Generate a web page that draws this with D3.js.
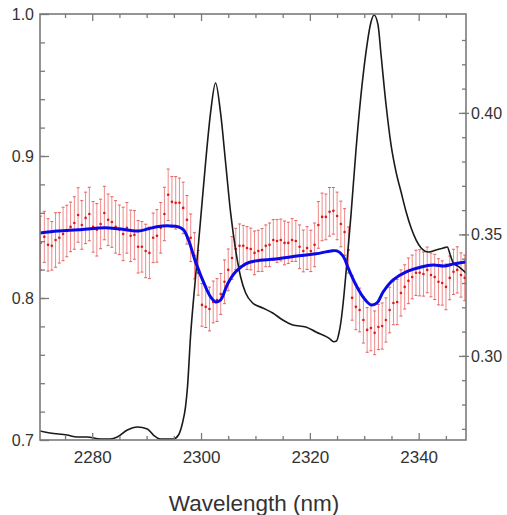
<!DOCTYPE html>
<html lang="en">

<head>
    <meta charset="UTF-8">
    <title>Spectrum</title>
    <script src="https://d3js.org/d3.v7.min.js"></script>
    <style>
        body {
            margin: 0;
            background: #fff;
        }

        text {
            font-family: "Liberation Sans", Arial, sans-serif;
            fill: #333;
        }
    </style>
</head>

<body>

    <svg id="chart"></svg>

    <script>
        // black trace (left axis)
        const blackWl = [2270.4, 2272.26, 2275.39, 2277.24, 2279.08, 2281.47, 2283.32, 2284.61, 2286.45, 2288.29,
            2290.14, 2291.24, 2292.53, 2294.93, 2295.85, 2296.59, 2297.14, 2297.51, 2298.06, 2298.99,
            2299.91, 2300.83, 2301.75, 2302.67, 2303.59, 2304.52, 2305.44, 2306.36, 2307.28, 2308.2,
            2309.49, 2311.34, 2313.18, 2315.02, 2316.87, 2319.26, 2321.11, 2323.5, 2324.4, 2324.9,
            2325.3, 2325.71, 2326.27, 2326.82, 2327.56, 2328.48, 2329.4, 2330.32, 2331.24, 2331.8,
            2332.53, 2333.09, 2334.01, 2334.93, 2335.85, 2336.77, 2337.7, 2338.62, 2339.54, 2340.46,
            2341.75, 2343.23, 2344.52, 2345.25, 2345.81, 2346.36, 2347.47, 2348.7];
        const blackVal = [0.7063, 0.7049, 0.7035, 0.7021, 0.7021, 0.7007, 0.7007, 0.7021, 0.7070, 0.7092,
            0.7077, 0.7035, 0.7007, 0.7007, 0.7035, 0.7120, 0.7232, 0.7373, 0.7725, 0.8148,
            0.8549, 0.8951, 0.9303, 0.9514, 0.9303, 0.8951, 0.8599, 0.8338, 0.8148, 0.8035,
            0.7965, 0.7930, 0.7894, 0.7845, 0.7810, 0.7796, 0.7761, 0.7718, 0.7692, 0.7697,
            0.7745, 0.7831, 0.8021, 0.8254, 0.8585, 0.9042, 0.9430, 0.9732, 0.9944, 0.9993,
            0.9923, 0.9711, 0.9359, 0.9077, 0.8887, 0.8746, 0.8606, 0.8493, 0.8408, 0.8352,
            0.8324, 0.8338, 0.8352, 0.8359, 0.8303, 0.8246, 0.8218, 0.8176];

        // blue fit (right axis)
        const blueWl = [2270.41, 2273.73, 2277.42, 2282.4, 2284.79, 2288.48, 2290.32, 2292.17, 2294.38, 2295.85,
            2296.77, 2297.7, 2298.99, 2300.83, 2301.75, 2302.67, 2303.59, 2304.88, 2306.36, 2308.2,
            2310.05, 2313.73, 2317.97, 2321.11, 2323.87, 2324.98, 2326.08, 2327.19, 2328.48, 2329.77,
            2331.24, 2332.35, 2333.46, 2335.3, 2337.7, 2340.46, 2342.67, 2344.7, 2346.54, 2348.7];
        const blueVal = [0.3506, 0.3514, 0.3519, 0.3527, 0.3523, 0.3514, 0.3523, 0.3533, 0.3535, 0.3531,
            0.3519, 0.3477, 0.3387, 0.3284, 0.3243, 0.3222, 0.3230, 0.3296, 0.3346, 0.3379,
            0.3391, 0.3399, 0.3412, 0.3420, 0.3432, 0.3432, 0.3412, 0.3354, 0.3292, 0.3243,
            0.3210, 0.3218, 0.3263, 0.3313, 0.3346, 0.3366, 0.3374, 0.3370, 0.3379, 0.3387];

        // red measurements with error bars (right axis)
        const redWl = [2270.50, 2271.19, 2271.88, 2272.57, 2273.26, 2273.95, 2274.64, 2275.33, 2276.02, 2276.71,
            2277.40, 2278.09, 2278.78, 2279.47, 2280.16, 2280.85, 2281.54, 2282.23, 2282.92, 2283.61,
            2284.30, 2284.99, 2285.68, 2286.37, 2287.06, 2287.75, 2288.44, 2289.13, 2289.82, 2290.51,
            2291.20, 2291.89, 2292.58, 2293.27, 2293.96, 2294.65, 2295.34, 2296.03, 2296.72, 2297.41,
            2298.10, 2298.79, 2299.48, 2300.17, 2300.86, 2301.55, 2302.24, 2302.93, 2303.62, 2304.31,
            2305.00, 2305.69, 2306.38, 2307.07, 2307.76, 2308.45, 2309.14, 2309.83, 2310.52, 2311.21,
            2311.90, 2312.59, 2313.28, 2313.97, 2314.66, 2315.35, 2316.04, 2316.73, 2317.42, 2318.11,
            2318.80, 2319.49, 2320.18, 2320.87, 2321.56, 2322.25, 2322.94, 2323.63, 2324.32, 2325.01,
            2325.70, 2326.39, 2327.08, 2327.77, 2328.46, 2329.15, 2329.84, 2330.53, 2331.22, 2331.91,
            2332.60, 2333.29, 2333.98, 2334.67, 2335.36, 2336.05, 2336.74, 2337.43, 2338.12, 2338.81,
            2339.50, 2340.19, 2340.88, 2341.57, 2342.26, 2342.95, 2343.64, 2344.33, 2345.02, 2345.71,
            2346.40, 2347.09, 2347.78, 2348.47];
        const redVal = [0.3465, 0.3490, 0.3457, 0.3453, 0.3477, 0.3486, 0.3502, 0.3514, 0.3531, 0.3547,
            0.3580, 0.3539, 0.3568, 0.3584, 0.3531, 0.3519, 0.3543, 0.3588, 0.3560, 0.3551,
            0.3531, 0.3519, 0.3502, 0.3527, 0.3494, 0.3498, 0.3449, 0.3449, 0.3432, 0.3424,
            0.3486, 0.3494, 0.3527, 0.3584, 0.3663, 0.3634, 0.3630, 0.3630, 0.3609, 0.3560,
            0.3486, 0.3412, 0.3342, 0.3210, 0.3202, 0.3193, 0.3222, 0.3230, 0.3255, 0.3305,
            0.3354, 0.3403, 0.3440, 0.3453, 0.3453, 0.3444, 0.3440, 0.3424, 0.3432, 0.3436,
            0.3453, 0.3457, 0.3477, 0.3473, 0.3477, 0.3465, 0.3465, 0.3477, 0.3473, 0.3449,
            0.3432, 0.3444, 0.3432, 0.3457, 0.3539, 0.3572, 0.3572, 0.3593, 0.3597, 0.3576,
            0.3543, 0.3510, 0.3436, 0.3239, 0.3202, 0.3189, 0.3148, 0.3107, 0.3115, 0.3095,
            0.3119, 0.3123, 0.3148, 0.3189, 0.3218, 0.3222, 0.3259, 0.3284, 0.3309, 0.3325,
            0.3342, 0.3342, 0.3337, 0.3354, 0.3333, 0.3325, 0.3305, 0.3300, 0.3284, 0.3321,
            0.3346, 0.3354, 0.3333, 0.3321];
        const redErr = [0.0110, 0.0105, 0.0108, 0.0100, 0.0112, 0.0104, 0.0110, 0.0106, 0.0102, 0.0108,
            0.0112, 0.0100, 0.0106, 0.0110, 0.0104, 0.0108, 0.0102, 0.0110, 0.0106, 0.0104,
            0.0108, 0.0102, 0.0110, 0.0104, 0.0106, 0.0100, 0.0108, 0.0104, 0.0110, 0.0106,
            0.0102, 0.0108, 0.0104, 0.0110, 0.0106, 0.0104, 0.0108, 0.0102, 0.0106, 0.0100, 0.0098,
            0.0095, 0.0092, 0.0088, 0.0085, 0.0090, 0.0086, 0.0088, 0.0084, 0.0090, 0.0086,
            0.0088, 0.0085, 0.0090, 0.0084, 0.0088, 0.0086, 0.0090, 0.0085, 0.0088, 0.0086,
            0.0090, 0.0084, 0.0088, 0.0086, 0.0090, 0.0085, 0.0088, 0.0084, 0.0090, 0.0086, 0.0088, 0.0085, 0.0090,
            0.0096, 0.0098, 0.0094, 0.0100, 0.0096, 0.0098, 0.0094, 0.0096, 0.0095,
            0.0092, 0.0094, 0.0090, 0.0095, 0.0092, 0.0094, 0.0090, 0.0093, 0.0095, 0.0091,
            0.0094, 0.0090, 0.0093, 0.0095, 0.0091, 0.0094, 0.0090, 0.0093, 0.0095, 0.0091,
            0.0094, 0.0090, 0.0093, 0.0095, 0.0091, 0.0094, 0.0090, 0.0093, 0.0095, 0.0091, 0.0094];

        // axis ticks
        const xTicks = [2280, 2300, 2320, 2340];
        const xMinor = [2275, 2285, 2290, 2295, 2305, 2310, 2315, 2325, 2330, 2335, 2345];
        const yLeftTicks = [0.7, 0.8, 0.9, 1.0];
        const yRightTicks = [0.30, 0.35, 0.40];

        const width = 507, height = 515;
        const mLeft = 40, mRight = 466, mTop = 14, mBottom = 440;

        const x = d3.scaleLinear().domain([2270.4, 2348.7]).range([mLeft, mRight]);
        const yL = d3.scaleLinear().domain([0.7, 1.0]).range([mBottom, mTop]);
        const yR = d3.scaleLinear().domain([0.2654, 0.4407]).range([mBottom, mTop]);

        const svg = d3.select("#chart")
            .attr("width", width)
            .attr("height", height);

        svg.append("rect").attr("width", width).attr("height", height).attr("fill", "#fff");

        svg.append("clipPath").attr("id", "plot")
            .append("rect").attr("x", mLeft).attr("y", mTop)
            .attr("width", mRight - mLeft).attr("height", mBottom - mTop);

        const plot = svg.append("g").attr("clip-path", "url(#plot)");

        // error bars
        const red = redWl.map((w, i) => ({ w, v: redVal[i], e: redErr[i] }));
        const bars = plot.append("g");
        bars.selectAll("line.bar")
            .data(red)
            .join("line")
            .attr("class", "bar")
            .attr("x1", d => x(d.w)).attr("x2", d => x(d.w))
            .attr("y1", d => yR(d.v - d.e)).attr("y2", d => yR(d.v + d.e))
            .attr("stroke", "#f08a8a").attr("stroke-width", 1);
        ["lo", "hi"].forEach(k => {
            bars.selectAll("line.cap" + k)
                .data(red)
                .join("line")
                .attr("class", "cap" + k)
                .attr("x1", d => x(d.w) - 1.5).attr("x2", d => x(d.w) + 1.5)
                .attr("y1", d => yR(k === "lo" ? d.v - d.e : d.v + d.e))
                .attr("y2", d => yR(k === "lo" ? d.v - d.e : d.v + d.e))
                .attr("stroke", "#e06060").attr("stroke-width", 1);
        });
        bars.selectAll("circle")
            .data(red)
            .join("circle")
            .attr("cx", d => x(d.w)).attr("cy", d => yR(d.v))
            .attr("r", 1.3)
            .attr("fill", "#e01818");

        // black trace
        plot.append("path")
            .datum(blackWl.map((w, i) => [w, blackVal[i]]))
            .attr("fill", "none")
            .attr("stroke", "#1a1a1a")
            .attr("stroke-width", 1.6)
            .attr("d", d3.line().x(d => x(d[0])).y(d => yL(d[1])).curve(d3.curveMonotoneX));

        // blue fit
        plot.append("path")
            .datum(blueWl.map((w, i) => [w, blueVal[i]]))
            .attr("fill", "none")
            .attr("stroke", "#0a0ae6")
            .attr("stroke-width", 3)
            .attr("d", d3.line().x(d => x(d[0])).y(d => yR(d[1])).curve(d3.curveCatmullRom));

        // frame and axes
        const axisColor = "#7a7a7a";
        function style(g) {
            g.select(".domain").remove();
            g.selectAll(".tick line").attr("stroke", axisColor).attr("stroke-width", 1.3);
        }

        svg.append("g").attr("transform", `translate(0,${mBottom})`)
            .call(d3.axisBottom(x).tickValues(xTicks).tickSize(-7).tickPadding(11).tickFormat(d3.format("d")))
            .call(style)
            .call(g => g.selectAll("text").attr("font-size", 17).attr("fill", "#333"));
        svg.append("g").attr("transform", `translate(0,${mBottom})`)
            .call(d3.axisBottom(x).tickValues(xMinor).tickSize(-4).tickFormat(""))
            .call(style);
        svg.append("g").attr("transform", `translate(0,${mTop})`)
            .call(d3.axisTop(x).tickValues(xTicks).tickSize(-7).tickFormat(""))
            .call(style);
        svg.append("g").attr("transform", `translate(0,${mTop})`)
            .call(d3.axisTop(x).tickValues(xMinor).tickSize(-4).tickFormat(""))
            .call(style);

        svg.append("g").attr("transform", `translate(${mLeft},0)`)
            .call(d3.axisLeft(yL).tickValues(yLeftTicks).tickSize(-9).tickPadding(6).tickFormat(d3.format(".1f")))
            .call(style)
            .call(g => g.selectAll("text").attr("font-size", 16).attr("fill", "#333"));
        svg.append("g").attr("transform", `translate(${mLeft},0)`)
            .call(d3.axisLeft(yL).tickValues(d3.range(0.72, 0.99, 0.02)).tickSize(-5).tickFormat(""))
            .call(style);

        svg.append("g").attr("transform", `translate(${mRight},0)`)
            .call(d3.axisRight(yR).tickValues(yRightTicks).tickSize(-7).tickPadding(4).tickFormat(d3.format(".2f")))
            .call(style)
            .call(g => g.selectAll(".tick line").attr("x2", -7).attr("x1", 3))
            .call(g => g.selectAll("text").attr("font-size", 16).attr("fill", "#333").attr("x", 5));
        svg.append("g").attr("transform", `translate(${mRight},0)`)
            .call(d3.axisRight(yR).tickValues(d3.range(0.27, 0.44, 0.01)).tickSize(-4).tickFormat(""))
            .call(style);

        svg.append("rect")
            .attr("x", mLeft).attr("y", mTop)
            .attr("width", mRight - mLeft).attr("height", mBottom - mTop)
            .attr("fill", "none")
            .attr("stroke", axisColor)
            .attr("stroke-width", 1.6);

        svg.append("text")
            .attr("x", (mLeft + mRight) / 2 + 1)
            .attr("y", 511)
            .attr("text-anchor", "middle")
            .attr("font-size", 22.5)
            .attr("fill", "#222")
            .text("Wavelength (nm)");
    </script>
</body>

</html>
